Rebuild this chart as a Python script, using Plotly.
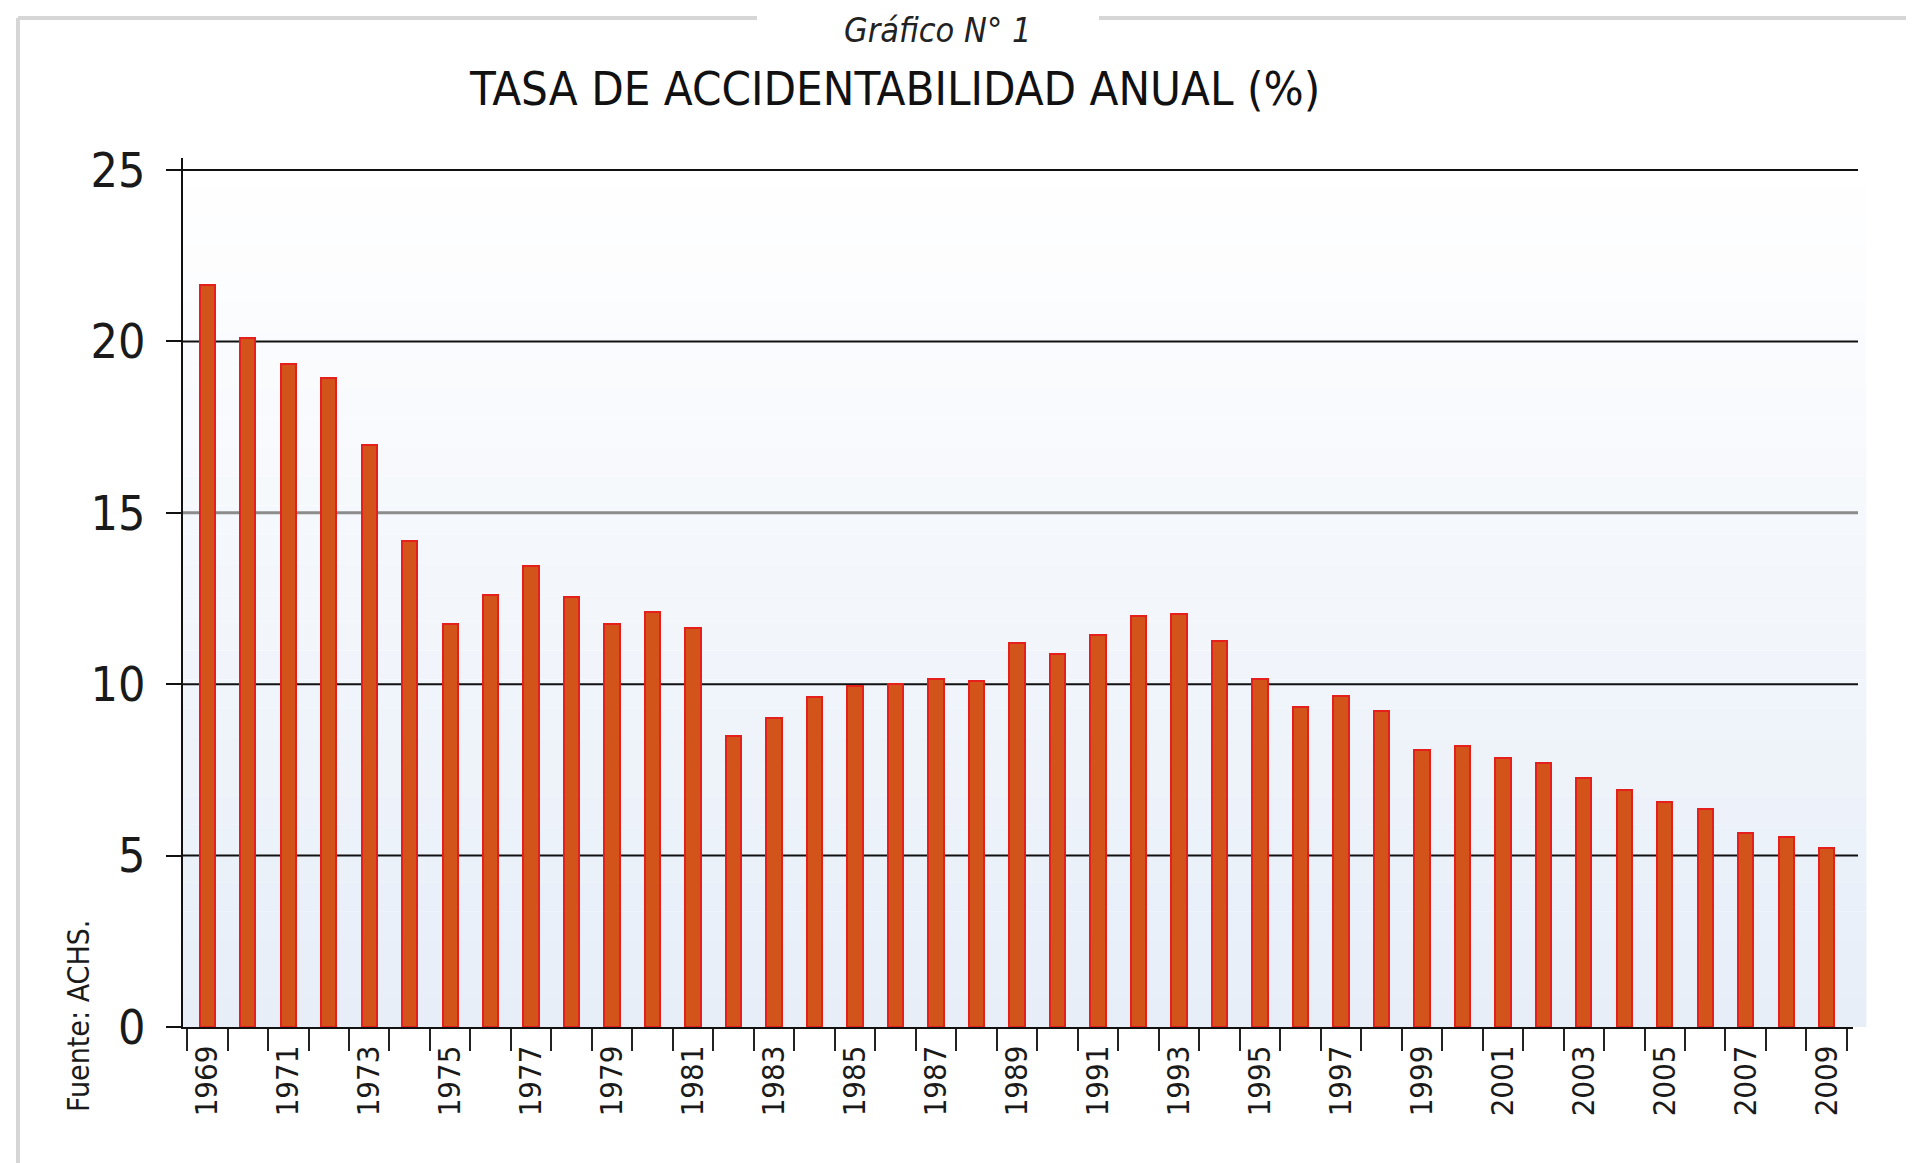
import plotly.graph_objects as go

years = list(range(1969, 2010))
rates = [21.65, 20.10, 19.35, 18.93, 16.97, 14.19, 11.76, 12.60, 13.44, 12.55,
         11.77, 12.12, 11.63, 8.48, 9.01, 9.63, 9.95, 10.00, 10.15, 10.10,
         11.19, 10.89, 11.43, 11.98, 12.05, 11.26, 10.16, 9.33, 9.66, 9.23,
         8.07, 8.20, 7.85, 7.69, 7.25, 6.90, 6.55, 6.36, 5.65, 5.55, 5.21]
label_years = [y for y in years if y % 2 == 1]
boundaries = [y + 0.5 for y in range(1968, 2010)]
y_ticks = [0, 5, 10, 15, 20, 25]
grid_colors = ["#111111", "#111111", "#111111", "#8c8c8c", "#111111", "#111111"]

FONT = "DejaVu Sans Condensed, Liberation Sans Narrow, sans-serif"

fig = go.Figure()
fig.add_trace(go.Bar(
    x=years, y=rates, width=0.38,
    marker=dict(color="#d2541a", line=dict(color="#e5201c", width=2)),
    hoverinfo="x+y",
))

shapes = []
# vertical gradient background of the plotting area
n = 30
top_c = (255, 255, 255)
bot_c = (231, 238, 248)
for i in range(n):
    t = i / (n - 1)
    c = tuple(round(top_c[k] + (bot_c[k] - top_c[k]) * t) for k in range(3))
    shapes.append(dict(type="rect", xref="x domain", yref="y domain",
                       x0=0, x1=1.008, y0=1 - (i + 1) / n, y1=1 - i / n,
                       fillcolor="rgb(%d,%d,%d)" % c, line=dict(width=0), layer="below"))
# horizontal gridlines
for v, col in zip(y_ticks[1:], grid_colors[1:]):
    shapes.append(dict(type="line", xref="x domain", yref="y", x0=0, x1=1.003, y0=v, y1=v,
                       line=dict(color=col, width=3 if col != "#111111" else 2), layer="below"))
# outer frame
frame_col = "#d6d6d6"
shapes.append(dict(type="line", xref="paper", yref="paper", x0=-0.0988, x1=0.3437, y0=1.161, y1=1.161,
                   line=dict(color=frame_col, width=4), layer="above"))
shapes.append(dict(type="line", xref="paper", yref="paper", x0=0.5485, x1=1.05, y0=1.161, y1=1.161,
                   line=dict(color=frame_col, width=4), layer="above"))
shapes.append(dict(type="line", xref="paper", yref="paper", x0=-0.0988, x1=-0.0988, y0=-0.2, y1=1.161,
                   line=dict(color=frame_col, width=4), layer="above"))
fig.update_layout(shapes=shapes)

fig.update_layout(
    width=1906, height=1155,
    margin=dict(l=175, r=61, t=150, b=136, autoexpand=False),
    paper_bgcolor="white", plot_bgcolor="rgba(0,0,0,0)",
    showlegend=False, bargap=0,
    font=dict(family=FONT, color="#1a1a1a"),
    xaxis=dict(
        range=[1968.4, 2009.65], automargin=False,
        tickmode="array", tickvals=label_years, ticktext=[str(y) for y in label_years],
        ticks="", tickangle=-90, tickfont=dict(size=31, family=FONT, color="#1a1a1a"),
        ticklabelstandoff=4,
        showgrid=False, zeroline=False,
        showline=True, linecolor="#111", linewidth=2,
        minor=dict(tickmode="array", tickvals=boundaries, ticks="outside",
                   ticklen=22, tickwidth=2, tickcolor="#222", showgrid=False),
    ),
    yaxis=dict(
        range=[0, 25.35], automargin=False,
        tickmode="array", tickvals=y_ticks, ticktext=[str(v) for v in y_ticks],
        ticks="outside", ticklen=15, tickwidth=2, tickcolor="#111",
        tickfont=dict(size=48, family=FONT, color="#1a1a1a"),
        ticklabelstandoff=11,
        showgrid=False,
        zeroline=False, showline=True, linecolor="#111", linewidth=2,
    ),
    annotations=[
        dict(text="TASA DE ACCIDENTABILIDAD ANUAL (%)", xref="paper", yref="paper",
             x=0.426, y=1.08, xanchor="center", yanchor="middle", showarrow=False,
             font=dict(size=47, family=FONT, color="#111")),
        dict(text="<i>Gráfico N° 1</i>", xref="paper", yref="paper",
             x=0.4515, y=1.1726, xanchor="center", yanchor="top", showarrow=False,
             font=dict(size=34, family=FONT, color="#222")),
        dict(text="Fuente: ACHS.", xref="paper", yref="paper",
             x=-0.0623, y=0.0127, xanchor="center", yanchor="middle", showarrow=False,
             textangle=-90, font=dict(size=30, family=FONT, color="#1a1a1a")),
    ],
)

fig.write_html("out.html")
